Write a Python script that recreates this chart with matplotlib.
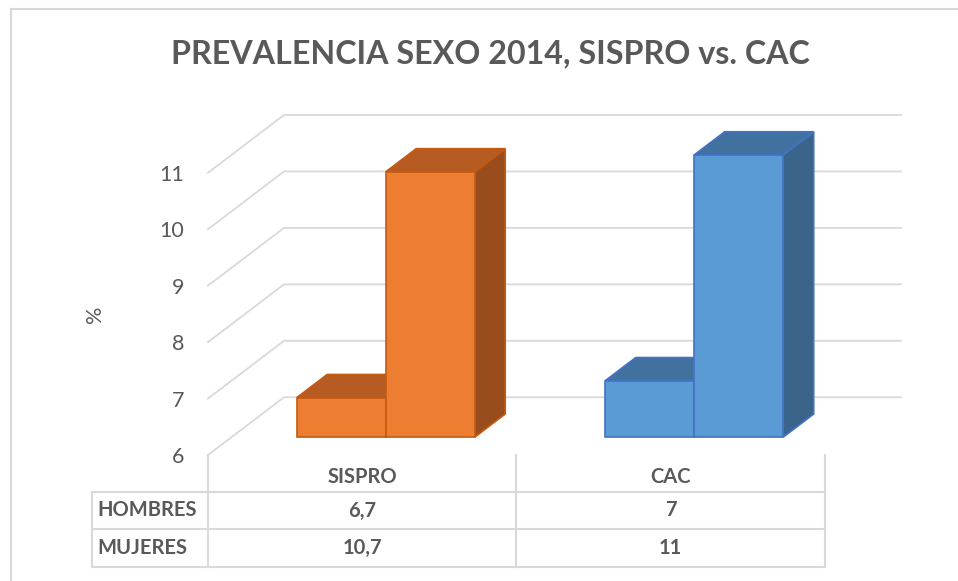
import matplotlib.pyplot as plt
from matplotlib.patches import Polygon
from matplotlib.lines import Line2D
from matplotlib.transforms import blended_transform_factory

categories = ['SISPRO', 'CAC']
series = ['HOMBRES', 'MUJERES']
hombres = [6.7, 7]
mujeres = [10.7, 11]
value_labels = [['6,7', '7'], ['10,7', '11']]
yticks = [6, 7, 8, 9, 10, 11]

plt.rcParams['font.family'] = ['Lato', 'DejaVu Sans']
TXT = '#595959'
GRID = '#D9D9D9'

# colours per category: front, top, side, edge
colors = [
    ('#ED7D31', '#B65B22', '#9A4D1C', '#C55A11'),
    ('#5B9BD5', '#41729F', '#3A6489', '#4472C4'),
]

W, H = 958, 581
fig = plt.figure(figsize=(W / 100, H / 100), dpi=100)

# ------------------------
# fake 3D: depth shifts points right/up
# ------------------------
DX, DY = 0.2464, 1.023
ymin, ymax = yticks[0], yticks[-1]

ax = fig.add_axes([208 / W, 1 - 455 / H, (901 - 208) / W, (455 - 115) / H])
ax.set_xlim(0, len(categories) + DX)
ax.set_ylim(ymin, ymax + DY)
for s in ax.spines.values():
    s.set_visible(False)
ax.set_xticks([])
ax.set_yticks(yticks)
ax.set_yticklabels([str(t) for t in yticks])
ax.tick_params(axis='y', length=0, pad=17, labelsize=15.5, labelcolor=TXT)


def P(x, v, d):
    return (x + d * DX, v + d * DY)


# walls
for v in yticks:
    ax.plot([0, DX, len(categories) + DX], [v, v + DY, v + DY],
            color=GRID, lw=1.3, zorder=1, clip_on=False)

ax.text(-0.366, (ymin + ymax) / 2, '%', rotation=90, ha='center', va='center',
        fontsize=15.5, color=TXT)

d0, d1 = 0.31, 0.71
w = 0.2885


def box(x0, x1, v, c):
    front, top, side, edge = c
    faces = [
        ([P(x1, ymin, d0), P(x1, ymin, d1), P(x1, v, d1), P(x1, v, d0)], side),
        ([P(x0, v, d0), P(x1, v, d0), P(x1, v, d1), P(x0, v, d1)], top),
        ([P(x0, ymin, d0), P(x1, ymin, d0), P(x1, v, d0), P(x0, v, d0)], front),
    ]
    for pts, fc in faces:
        ax.add_patch(Polygon(pts, closed=True, facecolor=fc, edgecolor=edge,
                             lw=1.2, zorder=3, joinstyle='miter'))


for i in range(len(categories)):
    c = i + 0.5
    box(c - w, c, hombres[i], colors[i])
    box(c, c + w, mujeres[i], colors[i])

# ------------------------
# data table
# ------------------------
tr = blended_transform_factory(ax.transData, fig.transFigure)
fy = lambda px: 1 - px / H
xl = (92 - 208) / 308.5
n = len(categories)
rows_y = [491.7, 529.3, 567.3]

for x in range(n + 1):
    fig.add_artist(Line2D([x, x], [fy(455), fy(567.3)], transform=tr,
                          color=GRID, lw=1.5))
fig.add_artist(Line2D([xl, xl], [fy(491.7), fy(567.3)], transform=tr,
                      color=GRID, lw=1.5))
for y in rows_y:
    fig.add_artist(Line2D([xl, n], [fy(y), fy(y)], transform=tr,
                          color=GRID, lw=1.5))

for i, cat in enumerate(categories):
    fig.text(i + 0.5, fy(477), cat, transform=tr, ha='center', va='center',
             fontsize=14.5, fontweight='bold', color=TXT)
for r, name in enumerate(series):
    yc = fy((rows_y[r] + rows_y[r + 1]) / 2)
    fig.text(xl + 5 / 308.5, yc, name, transform=tr, ha='left', va='center',
             fontsize=14.5, fontweight='bold', color=TXT)
    for i in range(n):
        fig.text(i + 0.5, yc, value_labels[r][i], transform=tr, ha='center',
                 va='center', fontsize=14.5, fontweight='bold', color=TXT)

# title
fig.text(490 / W, fy(54), 'PREVALENCIA SEXO 2014, SISPRO vs. CAC',
         ha='center', va='center', fontsize=23.2, fontweight='bold', color=TXT)

# chart border
fig.add_artist(Line2D([11 / W, 1], [fy(9), fy(9)], color=GRID, lw=1.5))
fig.add_artist(Line2D([11 / W, 11 / W], [fy(9), 0], color=GRID, lw=1.5))

fig.savefig('out.png', dpi=100)
